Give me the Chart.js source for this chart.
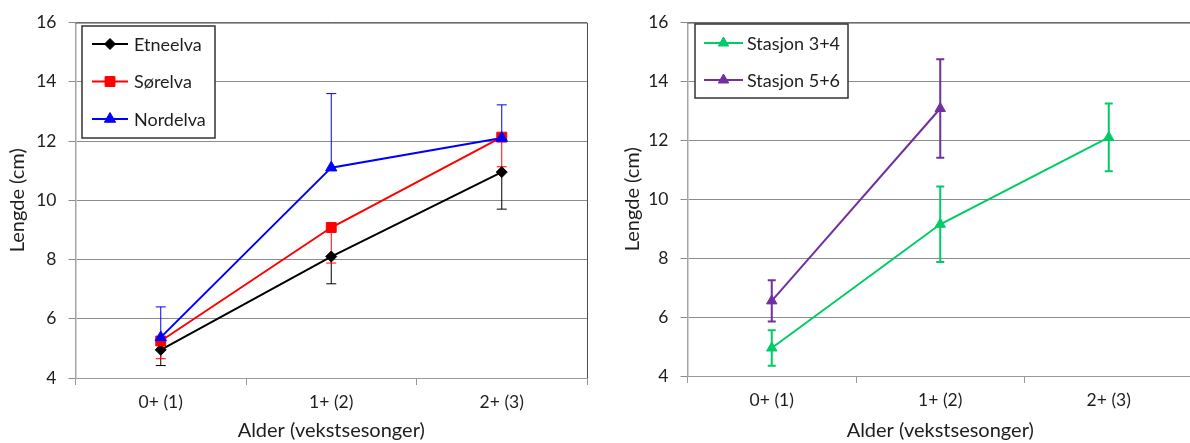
<!DOCTYPE html>
<html>
<head>
<meta charset="utf-8">
<script src="https://cdn.jsdelivr.net/npm/chart.js@4"></script>
<style>
  html, body { margin: 0; padding: 0; background: #fff; }
  #wrap { position: relative; width: 1190px; height: 443px; overflow: hidden; }
  #chartLeft { position: absolute; left: 0; top: 0; }
  #chartRight { position: absolute; left: 615px; top: 0; }
</style>
</head>
<body>
<div id="wrap">
  <canvas id="chartLeft" width="595" height="443"></canvas>
  <canvas id="chartRight" width="585" height="443"></canvas>
</div>
<script>
const categories = ["0+ (1)", "1+ (2)", "2+ (3)"];
const yTicks = [4, 6, 8, 10, 12, 14, 16];

// venstre figur: elver (middel og standardavvik)
const etneelva = [4.95, 8.1, 10.95];
const etneelvaErr = [0.53, 0.92, 1.25];
const sorelva = [5.25, 9.08, 12.13];
const sorelvaErr = [0.6, 1.2, 1.0];
const nordelva = [5.37, 11.1, 12.1];
const nordelvaErr = [1.03, 2.5, 1.12];

// høyre figur: stasjoner
const stasjon34 = [4.95, 9.15, 12.1];
const stasjon34Err = [0.6, 1.28, 1.15];
const stasjon56 = [6.55, 13.08, null];
const stasjon56Err = [0.7, 1.67, null];

const FONT = "Lato, 'Open Sans', sans-serif";
Chart.defaults.font.family = FONT;
Chart.defaults.color = "#1e1e1e";

const errorBars = {
  id: "errorBars",
  beforeDatasetsDraw(chart, args, opts) {
    const ctx = chart.ctx;
    const ys = chart.scales.y;
    chart.data.datasets.forEach((ds, i) => {
      if (!ds.err) return;
      const meta = chart.getDatasetMeta(i);
      ctx.save();
      ctx.strokeStyle = ds.borderColor;
      ctx.lineWidth = opts.width;
      meta.data.forEach((pt, j) => {
        const v = ds.data[j];
        const e = ds.err[j];
        if (v == null || e == null) return;
        const hi = ds.errDir === "minus" ? v : v + e;
        const lo = ds.errDir === "plus" ? v : v - e;
        const x = pt.x;
        const y1 = ys.getPixelForValue(hi);
        const y2 = ys.getPixelForValue(lo);
        ctx.beginPath();
        ctx.moveTo(x, y1);
        ctx.lineTo(x, y2);
        if (ds.errDir !== "minus") {
          ctx.moveTo(x - opts.cap, y1);
          ctx.lineTo(x + opts.cap, y1);
        }
        if (ds.errDir !== "plus") {
          ctx.moveTo(x - opts.cap, y2);
          ctx.lineTo(x + opts.cap, y2);
        }
        ctx.stroke();
      });
      ctx.restore();
    });
  },
};

const frame = {
  id: "frame",
  beforeDatasetsDraw(chart) {
    const a = chart.chartArea;
    const ctx = chart.ctx;
    ctx.save();
    ctx.strokeStyle = "#4a4a4a";
    ctx.lineWidth = 1;
    ctx.beginPath();
    ctx.moveTo(a.left, a.top + 0.5);
    ctx.lineTo(a.right + 0.5, a.top + 0.5);
    ctx.lineTo(a.right + 0.5, a.bottom);
    ctx.stroke();
    ctx.restore();
  },
};

const boxLegend = {
  id: "boxLegend",
  afterDraw(chart, args, o) {
    const ctx = chart.ctx;
    ctx.save();
    ctx.fillStyle = "#fff";
    ctx.fillRect(o.x, o.y, o.w, o.h);
    ctx.strokeStyle = "#333";
    ctx.lineWidth = 1.5;
    ctx.strokeRect(o.x, o.y, o.w, o.h);
    ctx.font = "18px " + FONT;
    ctx.textBaseline = "middle";
    chart.data.datasets.forEach((ds, i) => {
      const yy = o.y + o.first + i * o.step;
      ctx.strokeStyle = ds.borderColor;
      ctx.lineWidth = 2;
      ctx.beginPath();
      ctx.moveTo(o.x + o.l0, yy);
      ctx.lineTo(o.x + o.l1, yy);
      ctx.stroke();
      ctx.fillStyle = ds.backgroundColor;
      ctx.lineWidth = 1;
      Chart.helpers.drawPoint(ctx, {
        pointStyle: ds.pointStyle,
        radius: ds.pointRadius,
        borderWidth: 1,
        rotation: 0,
      }, o.x + (o.l0 + o.l1) / 2, yy);
      ctx.fillStyle = "#1e1e1e";
      ctx.fillText(ds.label, o.x + o.tx, yy + 1);
    });
    ctx.restore();
  },
};

function scalesFor(yWidth, xHeight) {
  return {
    x: {
      type: "category",
      offset: true,
      border: { color: "#9a9a9a", width: 1 },
      grid: { drawOnChartArea: false, offset: true, tickLength: 7, color: "#9a9a9a" },
      ticks: { font: { size: 17.5 }, padding: 7, maxRotation: 0 },
      title: { display: true, text: "Alder (vekstsesonger)", font: { size: 20 }, padding: { top: 0, bottom: 0 } },
      afterFit: (s) => { s.height = xHeight; },
    },
    y: {
      min: 4,
      max: 16,
      border: { color: "#a6a6a6", width: 1.5 },
      grid: { color: "#8c8c8c", tickLength: 7 },
      afterBuildTicks: (s) => { s.ticks = yTicks.map((v) => ({ value: v })); },
      ticks: { font: { size: 17.5 }, padding: 12 },
      title: { display: true, text: "Lengde (cm)", font: { size: 20 }, padding: { top: 6, bottom: 0 } },
      afterFit: (s) => { s.width = yWidth; },
    },
  };
}

const leftChart = new Chart(document.getElementById("chartLeft"), {
  type: "line",
  data: {
    labels: categories,
    datasets: [
      {
        label: "Etneelva",
        data: etneelva,
        err: etneelvaErr,
        errDir: "minus",
        borderColor: "#000000",
        backgroundColor: "#000000",
        pointStyle: "rectRot",
        pointRadius: 5.5,
        order: 3,
      },
      {
        label: "Sørelva",
        data: sorelva,
        err: sorelvaErr,
        errDir: "minus",
        borderColor: "#ff0000",
        backgroundColor: "#ff0000",
        pointStyle: "rect",
        pointRadius: 7,
        order: 2,
      },
      {
        label: "Nordelva",
        data: nordelva,
        err: nordelvaErr,
        errDir: "plus",
        borderColor: "#0000ff",
        backgroundColor: "#0000ff",
        pointStyle: "triangle",
        pointRadius: 6.5,
        order: 1,
      },
    ],
  },
  options: {
    responsive: false,
    animation: false,
    datasets: { line: { borderWidth: 2, tension: 0, pointBorderWidth: 1 } },
    layout: { padding: { top: 20, right: 6, left: 0, bottom: 0 } },
    scales: scalesFor(75.5, 65),
    plugins: {
      legend: { display: false },
      tooltip: { enabled: false },
      errorBars: { width: 1, cap: 5 },
      boxLegend: { x: 82, y: 26, w: 133, h: 112, first: 18, step: 37.5, l0: 10, l1: 46, tx: 52 },
    },
  },
  plugins: [frame, errorBars, boxLegend],
});

const rightChart = new Chart(document.getElementById("chartRight"), {
  type: "line",
  data: {
    labels: categories,
    datasets: [
      {
        label: "Stasjon 3+4",
        data: stasjon34,
        err: stasjon34Err,
        errDir: "both",
        borderColor: "#00cc66",
        backgroundColor: "#00cc66",
        pointStyle: "triangle",
        pointRadius: 6,
        order: 2,
      },
      {
        label: "Stasjon 5+6",
        data: stasjon56,
        err: stasjon56Err,
        errDir: "both",
        borderColor: "#7030a0",
        backgroundColor: "#7030a0",
        pointStyle: "triangle",
        pointRadius: 6,
        order: 1,
      },
    ],
  },
  options: {
    responsive: false,
    animation: false,
    datasets: { line: { borderWidth: 2, tension: 0, pointBorderWidth: 1 } },
    layout: { padding: { top: 17, right: 0, left: 0, bottom: 0 } },
    scales: scalesFor(72.5, 67),
    plugins: {
      legend: { display: false },
      tooltip: { enabled: false },
      errorBars: { width: 2, cap: 4 },
      boxLegend: { x: 80, y: 24, w: 153, h: 74, first: 19, step: 37, l0: 9, l1: 48, tx: 52 },
    },
  },
  plugins: [frame, errorBars, boxLegend],
});
</script>
</body>
</html>
